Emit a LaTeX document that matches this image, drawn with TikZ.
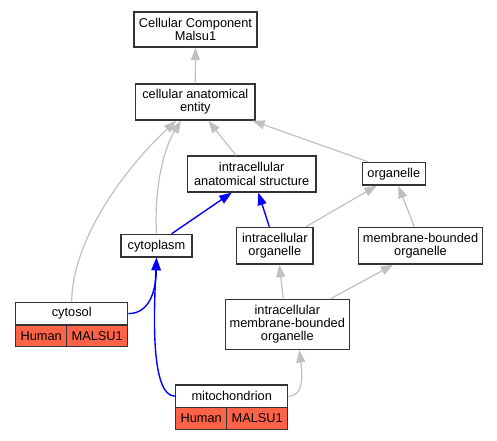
\documentclass[tikz,border=0pt]{standalone}
\usepackage{fontspec}
\setmainfont{Liberation Sans}
\usetikzlibrary{arrows.meta,calc}
\definecolor{edgegray}{HTML}{C0C0C0}
\definecolor{tomatocol}{HTML}{FF6347}
\definecolor{boxline}{HTML}{333333}
\begin{document}
\begin{tikzpicture}[x=1pt,y=-1pt,
  box/.style={draw=boxline, line width=1.3pt, fill=white, inner sep=0pt, align=center,
    font=\fontsize{12.8}{13.3}\selectfont},
  cell/.style={box, fill=tomatocol},
  gr/.style={draw=edgegray, line width=1.2pt, -{Triangle[length=12.5pt,width=9pt]}},
  bl/.style={draw=blue, line width=1.4pt, -{Triangle[length=12.5pt,width=9pt]}}]
\useasboundingbox (0,0) rectangle (497,440);

\node[box, minimum width=123pt, minimum height=35pt] (cc) at (195.5,29.5) {Cellular Component\\Malsu1};
\node[box, minimum width=119.3pt, minimum height=36pt] (cae) at (195.3,102) {cellular anatomical\\entity};
\node[box, minimum width=128.5pt, minimum height=36pt] (ias) at (251.7,174) {intracellular\\anatomical structure};
\node[box, minimum width=63pt, minimum height=22.7pt] (org) at (393.8,173.7) {organelle};
\node[box, minimum width=71pt, minimum height=22.7pt] (cyto) at (156.5,245.7) {cytoplasm};
\node[box, minimum width=76.3pt, minimum height=36.7pt] (io) at (274.8,245.7) {intracellular\\organelle};
\node[box, minimum width=124.4pt, minimum height=36.7pt] (mbo) at (420.5,245.7) {membrane-bounded\\organelle};
\node[box, minimum width=124pt, minimum height=50pt] (imbo) at (287.3,324.3) {intracellular\\membrane-bounded\\organelle};

\node[box, minimum width=112pt, minimum height=22.7pt] (cytosol) at (71.7,313.6) {cytosol};
\node[cell, minimum width=51pt, minimum height=21.7pt] (cytosolh) at (41.2,335.9) {Human};
\node[cell, minimum width=61pt, minimum height=21.7pt] (cytosolm) at (97.2,335.9) {MALSU1};

\node[box, minimum width=112pt, minimum height=22.3pt] (mito) at (231.7,396.2) {mitochondrion};
\node[cell, minimum width=51pt, minimum height=22pt] (mitoh) at (201.2,418.4) {Human};
\node[cell, minimum width=61pt, minimum height=22pt] (mitom) at (257.2,418.4) {MALSU1};

\draw[gr] (cae.north) -- (cc.south);
\draw[gr] ($(ias.north)+(-15.7,0)$) -- ($(cae.south)+(13,0)$);
\draw[gr] ($(org.north)+(-26,0)$) -- ($(cae.south east)+(-3.3,0)$);
\draw[gr] (cyto.north) .. controls (154,190) and (163,150) .. ($(cae.south)+(-14.3,0)$);
\draw[gr] (cytosol.north) .. controls (72,240) and (125,168) .. ($(cae.south)+(-19,0)$);
\draw[bl] ($(cyto.north)+(15.2,0)$) -- ($(ias.south)+(-20,0)$);
\draw[bl] ($(io.north)+(-5.5,0)$) -- ($(ias.south)+(6.6,0)$);
\draw[gr] ($(io.north)+(31.2,0)$) -- ($(org.south)+(-17.1,0)$);
\draw[gr] ($(mbo.north)+(-6.2,0)$) -- ($(org.south)+(4.5,0)$);
\draw[gr] ($(imbo.north)+(-4,0)$) -- ($(io.south)+(4.5,0)$);
\draw[gr] ($(imbo.north)+(43.4,0)$) -- ($(mbo.south)+(-27.2,0)$);
\draw[bl] (cytosol.east) .. controls (150,313.6) and (156,290) .. (cyto.south);
\draw[bl] (mito.west) .. controls (150,396.2) and (154,310) .. (cyto.south);
\draw[gr] (mito.east) .. controls (305,396.2) and (302,372) .. ($(imbo.south)+(12,0)$);
\end{tikzpicture}
\end{document}
